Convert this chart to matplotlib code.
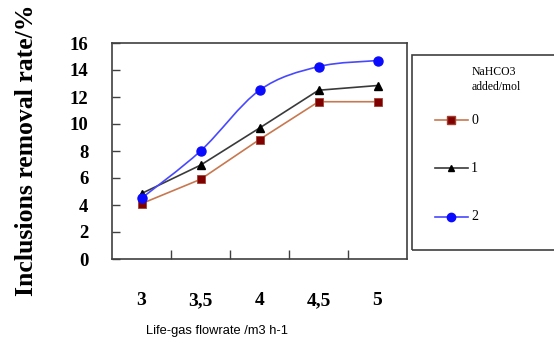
import matplotlib.pyplot as plt
from matplotlib.path import Path
from matplotlib.patches import PathPatch, Rectangle
from matplotlib.lines import Line2D

# data
flow_labels = ['3', '3,5', '4', '4,5', '5']
rate_0 = [4.1, 5.9, 8.85, 11.65, 11.65]
rate_1 = [4.85, 6.95, 9.7, 12.5, 12.85]
rate_2 = [4.5, 8.0, 12.5, 14.25, 14.7]
series_labels = ['0', '1', '2']
y_ticks = [0, 2, 4, 6, 8, 10, 12, 14, 16]

W, H = 554, 342
fig = plt.figure(figsize=(W / 100, H / 100), dpi=100)
ax = fig.add_axes([112 / W, 1 - 259 / H, (407 - 112) / W, (259 - 43) / H])

x = list(range(len(flow_labels)))

# series 0 and 1: straight lines
ax.plot(x, rate_0, color='#c87850', lw=1.2, marker='s', ms=6,
        mfc='#800000', mec='#a04030', mew=0.6, zorder=3)
ax.plot(x, rate_1, color='#3a3a3a', lw=1.2, marker='^', ms=6,
        mfc='black', mec='black', zorder=4)

# series 2: smoothed line (bezier through the points) + markers
verts = [(x[0], rate_2[0])]
codes = [Path.MOVETO]
n = len(x)
for i in range(n - 1):
    p0 = (x[max(i - 1, 0)], rate_2[max(i - 1, 0)])
    p1 = (x[i], rate_2[i])
    p2 = (x[i + 1], rate_2[i + 1])
    p3 = (x[min(i + 2, n - 1)], rate_2[min(i + 2, n - 1)])
    c1 = (p1[0] + (p2[0] - p0[0]) / 6, p1[1] + (p2[1] - p0[1]) / 6)
    c2 = (p2[0] - (p3[0] - p1[0]) / 6, p2[1] - (p3[1] - p1[1]) / 6)
    verts += [c1, c2, p2]
    codes += [Path.CURVE4] * 3
ax.add_patch(PathPatch(Path(verts, codes), fill=False, edgecolor='#4848ff',
                       lw=1.2, zorder=5))
ax.plot(x, rate_2, ls='none', marker='o', ms=6.5, mfc='#0a0aff',
        mec='#0a0aff', zorder=6)

ax.set_xlim(-0.5, len(flow_labels) - 0.5)
ax.set_ylim(0, 16)
ax.set_yticks(y_ticks)
ax.set_xticks(x)
ax.set_xticklabels(flow_labels)
ax.set_xticks([i + 0.5 for i in x[:-1]], minor=True)

for s in ax.spines.values():
    s.set_color('#404040')
    s.set_linewidth(1.2)

ax.tick_params(axis='y', direction='in', length=6, width=1, color='#404040',
               pad=17, labelsize=13.5)
ax.tick_params(axis='x', which='major', length=0, pad=24, labelsize=14)
ax.tick_params(axis='x', which='minor', direction='in', length=6.5, width=1,
               color='#404040')
for lab in ax.get_yticklabels() + ax.get_xticklabels():
    lab.set_fontfamily('Liberation Serif')
    lab.set_fontweight('bold')

fig.text(27 / W, 1 - 150 / H, 'Inclusions removal rate/%', rotation=90,
         ha='center', va='center', fontsize=18.5, fontweight='bold',
         family='Liberation Serif')
fig.text(217 / W, 1 - 331 / H, 'Life-gas flowrate /m3 h-1', ha='center',
         va='center', fontsize=9.3, family='Liberation Sans')

# legend box (runs off the right edge)
fig.add_artist(Rectangle((412 / W, 1 - 250 / H), 160 / W, 195 / H,
                         transform=fig.transFigure, fill=False,
                         edgecolor='#404040', lw=1.2, clip_on=False))
fig.text(472 / W, 1 - 72 / H, 'NaHCO3', fontsize=8.5,
         family='Liberation Serif', va='center')
fig.text(472 / W, 1 - 87 / H, 'added/mol', fontsize=8.5,
         family='Liberation Serif', va='center')

styles = [
    dict(color='#c87850', marker='s', mfc='#800000', mec='#a04030', ms=6),
    dict(color='#3a3a3a', marker='^', mfc='black', mec='black', ms=5),
    dict(color='#4848ff', marker='o', mfc='#0a0aff', mec='#0a0aff', ms=6),
]
for lab, st, yy in zip(series_labels, styles, [120, 168, 217]):
    fig.add_artist(Line2D([435 / W, 451 / W, 468 / W], [1 - yy / H] * 3,
                          transform=fig.transFigure, lw=1.2,
                          markevery=[1], **st))
    fig.text(471 / W, 1 - yy / H, lab, fontsize=10,
             family='Liberation Serif', va='center')

fig.savefig('out.png', dpi=100)
